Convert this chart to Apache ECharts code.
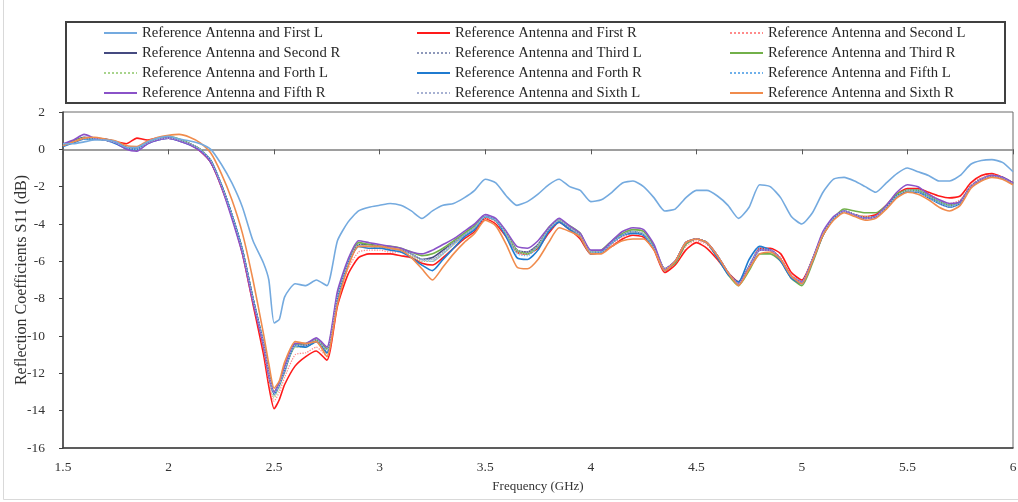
<!DOCTYPE html>
<html>
<head>
<meta charset="utf-8">
<script src="https://cdn.jsdelivr.net/npm/echarts@6/dist/echarts.min.js"></script>
<style>
html,body{margin:0;padding:0;background:#fff;}
#chart{width:1018px;height:502px;}
</style>
</head>
<body>
<div id="chart"></div>
<script>
// Frequency (GHz)
var freq = [1.50,1.55,1.60,1.65,1.70,1.75,1.80,1.85,1.90,1.95,
 2.00,2.05,2.10,2.15,2.20,2.25,2.30,2.35,2.40,2.45,
 2.475,2.50,2.525,2.55,
 2.60,2.65,2.70,2.75,2.80,2.85,2.90,2.95,
 3.00,3.05,3.10,3.15,3.20,3.25,3.30,3.35,3.40,3.45,3.50,3.55,3.60,3.65,3.70,3.75,3.80,3.85,3.90,3.95,
 4.00,4.05,4.10,4.15,4.20,4.25,4.30,4.35,4.40,4.45,4.50,4.55,4.60,4.65,4.70,4.75,4.80,4.85,4.90,4.95,
 5.00,5.05,5.10,5.15,5.20,5.25,5.30,5.35,5.40,5.45,5.50,5.55,5.60,5.65,5.70,5.75,5.80,5.85,5.90,5.95,
 6.00];

var firstL = [0.3,0.3,0.4,0.5,0.5,0.4,0.1,0.1,0.4,0.6,
 0.7,0.55,0.45,0.3,0.0,-0.8,-1.8,-3.1,-4.9,-6.1,
 -7.0,-9.3,-9.1,-7.9,
 -7.2,-7.3,-7.0,-7.3,-4.9,-3.9,-3.3,-3.1,
 -3.0,-2.9,-3.0,-3.3,-3.7,-3.3,-3.0,-2.9,-2.6,-2.2,-1.6,-1.8,-2.5,-3.0,-2.8,-2.4,-1.9,-1.6,-2.0,-2.2,
 -2.8,-2.7,-2.3,-1.8,-1.7,-2.0,-2.6,-3.3,-3.2,-2.6,-2.2,-2.2,-2.5,-3.0,-3.7,-3.1,-1.9,-2.0,-2.6,-3.6,
 -4.0,-3.4,-2.3,-1.6,-1.5,-1.7,-2.0,-2.3,-1.8,-1.3,-1.0,-1.2,-1.4,-1.7,-1.7,-1.4,-0.8,-0.6,-0.55,-0.7,
 -1.2];

var firstR = [0.2,0.4,0.6,0.6,0.5,0.4,0.3,0.6,0.5,0.6,
 0.6,0.5,0.3,-0.1,-0.7,-2.0,-3.6,-5.6,-8.3,-11.0,
 -12.7,-13.9,-13.4,-12.6,
 -11.6,-11.1,-10.8,-11.3,-8.4,-6.7,-5.8,-5.6,
 -5.6,-5.6,-5.7,-5.8,-6.1,-6.2,-5.8,-5.3,-4.8,-4.4,-3.7,-4.0,-4.7,-5.5,-5.6,-5.3,-4.5,-3.9,-4.3,-4.8,
 -5.6,-5.5,-5.2,-4.8,-4.6,-4.7,-5.4,-6.6,-6.2,-5.4,-5.0,-5.3,-5.9,-6.6,-7.1,-6.3,-5.3,-5.3,-5.6,-6.6,
 -7.0,-5.9,-4.6,-3.7,-3.3,-3.5,-3.6,-3.5,-3.0,-2.4,-2.1,-2.1,-2.3,-2.5,-2.6,-2.5,-1.8,-1.4,-1.3,-1.5,
 -1.8];

var secondL = [0.2,0.4,0.6,0.6,0.55,0.4,0.15,0.1,0.4,0.55,
 0.6,0.5,0.3,0.0,-0.6,-2.0,-3.6,-5.5,-8.1,-10.7,
 -12.4,-13.5,-13.0,-12.2,
 -11.0,-10.9,-10.6,-11.1,-8.1,-6.4,-5.5,-5.4,
 -5.4,-5.5,-5.5,-5.7,-6.0,-6.0,-5.6,-5.1,-4.7,-4.3,-3.7,-3.9,-4.6,-5.5,-5.6,-5.2,-4.4,-3.9,-4.3,-4.7,
 -5.6,-5.5,-5.1,-4.7,-4.5,-4.6,-5.3,-6.5,-6.1,-5.2,-4.9,-5.1,-5.8,-6.6,-7.2,-6.3,-5.4,-5.4,-5.8,-6.7,
 -7.1,-5.9,-4.5,-3.7,-3.3,-3.5,-3.6,-3.6,-3.1,-2.5,-2.2,-2.2,-2.4,-2.7,-2.9,-2.7,-1.9,-1.5,-1.35,-1.5,
 -1.8];

var secondR = [0.2,0.45,0.65,0.6,0.55,0.4,0.1,0.0,0.4,0.6,
 0.65,0.5,0.3,0.0,-0.7,-1.9,-3.5,-5.4,-8.0,-10.5,
 -12.0,-13.1,-12.6,-11.9,
 -10.4,-10.5,-10.2,-10.9,-8.0,-6.2,-5.1,-5.1,
 -5.2,-5.3,-5.4,-5.6,-5.9,-5.8,-5.4,-5.0,-4.6,-4.2,-3.6,-3.8,-4.5,-5.4,-5.5,-5.1,-4.3,-3.8,-4.2,-4.6,
 -5.5,-5.5,-5.0,-4.6,-4.4,-4.6,-5.3,-6.4,-6.0,-5.0,-4.8,-5.0,-5.7,-6.6,-7.2,-6.3,-5.4,-5.4,-5.9,-6.8,
 -7.1,-5.9,-4.5,-3.7,-3.3,-3.5,-3.7,-3.6,-3.1,-2.5,-2.2,-2.2,-2.5,-2.8,-3.0,-2.8,-2.0,-1.6,-1.4,-1.5,
 -1.8];

var thirdL = [0.2,0.45,0.6,0.6,0.5,0.35,0.1,0.0,0.35,0.55,
 0.6,0.5,0.3,0.0,-0.6,-1.9,-3.5,-5.4,-8.0,-10.4,
 -12.1,-13.2,-12.7,-11.9,
 -10.6,-10.6,-10.3,-10.9,-8.0,-6.2,-5.2,-5.2,
 -5.3,-5.3,-5.4,-5.6,-5.9,-5.9,-5.5,-5.0,-4.6,-4.2,-3.6,-3.8,-4.6,-5.5,-5.6,-5.2,-4.3,-3.8,-4.2,-4.6,
 -5.5,-5.5,-5.0,-4.6,-4.4,-4.5,-5.3,-6.4,-6.0,-5.0,-4.8,-5.0,-5.7,-6.6,-7.2,-6.3,-5.4,-5.4,-5.9,-6.8,
 -7.1,-5.9,-4.5,-3.7,-3.3,-3.5,-3.7,-3.6,-3.1,-2.5,-2.2,-2.2,-2.5,-2.8,-3.0,-2.8,-2.0,-1.6,-1.4,-1.5,
 -1.8];

var thirdR = [0.25,0.45,0.6,0.55,0.5,0.35,0.05,-0.05,0.35,0.6,
 0.7,0.55,0.3,0.0,-0.6,-1.9,-3.5,-5.4,-8.0,-10.4,
 -12.0,-13.0,-12.5,-11.7,
 -10.5,-10.4,-10.2,-10.7,-7.8,-6.0,-5.0,-5.1,
 -5.2,-5.2,-5.3,-5.5,-5.7,-5.6,-5.3,-4.9,-4.5,-4.1,-3.6,-3.8,-4.5,-5.4,-5.6,-5.2,-4.2,-3.8,-4.1,-4.5,
 -5.5,-5.4,-4.9,-4.5,-4.3,-4.4,-5.2,-6.4,-6.1,-5.1,-4.8,-5.0,-5.8,-6.7,-7.3,-6.5,-5.6,-5.6,-6.0,-6.9,
 -7.3,-6.1,-4.6,-3.7,-3.2,-3.3,-3.4,-3.4,-3.0,-2.4,-2.2,-2.2,-2.5,-2.8,-3.0,-2.8,-2.0,-1.6,-1.45,-1.55,
 -1.85];

var forthL = [0.2,0.4,0.6,0.6,0.5,0.35,0.05,0.0,0.35,0.55,
 0.6,0.5,0.3,0.0,-0.6,-1.9,-3.5,-5.5,-8.1,-10.5,
 -12.2,-13.3,-12.8,-11.9,
 -10.6,-10.6,-10.3,-10.9,-8.0,-6.2,-5.2,-5.2,
 -5.3,-5.3,-5.4,-5.7,-6.0,-6.0,-5.6,-5.1,-4.6,-4.2,-3.6,-3.8,-4.6,-5.5,-5.6,-5.2,-4.3,-3.8,-4.2,-4.6,
 -5.5,-5.5,-5.0,-4.6,-4.4,-4.5,-5.3,-6.5,-6.0,-5.0,-4.8,-5.0,-5.7,-6.6,-7.2,-6.3,-5.4,-5.4,-5.9,-6.8,
 -7.2,-6.0,-4.5,-3.7,-3.3,-3.5,-3.6,-3.6,-3.1,-2.5,-2.2,-2.2,-2.5,-2.8,-3.0,-2.8,-2.0,-1.6,-1.4,-1.5,
 -1.8];

var forthR = [0.15,0.35,0.55,0.55,0.5,0.3,0.05,0.0,0.3,0.5,
 0.6,0.45,0.25,-0.05,-0.6,-1.9,-3.5,-5.4,-8.0,-10.4,
 -12.1,-13.1,-12.6,-11.8,
 -10.5,-10.6,-10.3,-10.9,-8.0,-6.1,-5.2,-5.3,
 -5.3,-5.4,-5.5,-5.8,-6.2,-6.5,-5.9,-5.3,-4.7,-4.3,-3.6,-3.8,-4.7,-5.8,-5.9,-5.4,-4.4,-3.9,-4.3,-4.7,
 -5.6,-5.5,-5.0,-4.6,-4.5,-4.6,-5.3,-6.5,-6.0,-5.0,-4.8,-5.0,-5.8,-6.7,-7.1,-5.9,-5.2,-5.4,-6.0,-6.9,
 -7.2,-6.0,-4.6,-3.7,-3.3,-3.5,-3.7,-3.6,-3.1,-2.5,-2.3,-2.3,-2.6,-2.9,-3.1,-2.9,-2.0,-1.6,-1.45,-1.55,
 -1.85];

var fifthL = [0.2,0.4,0.55,0.55,0.5,0.35,0.05,0.0,0.3,0.55,
 0.6,0.5,0.3,0.0,-0.6,-1.9,-3.5,-5.4,-8.0,-10.4,
 -12.1,-13.1,-12.6,-11.8,
 -10.5,-10.5,-10.2,-10.8,-7.9,-6.1,-5.1,-5.2,
 -5.2,-5.3,-5.4,-5.6,-5.9,-6.0,-5.6,-5.1,-4.6,-4.2,-3.6,-3.8,-4.6,-5.6,-5.7,-5.2,-4.3,-3.8,-4.2,-4.6,
 -5.5,-5.5,-5.0,-4.6,-4.4,-4.6,-5.3,-6.4,-6.0,-5.0,-4.8,-5.0,-5.7,-6.6,-7.2,-6.2,-5.3,-5.4,-5.9,-6.8,
 -7.1,-5.9,-4.5,-3.7,-3.3,-3.5,-3.7,-3.6,-3.1,-2.5,-2.2,-2.2,-2.5,-2.8,-3.0,-2.8,-2.0,-1.6,-1.4,-1.5,
 -1.8];

var fifthR = [0.3,0.5,0.8,0.6,0.5,0.35,0.0,-0.1,0.3,0.5,
 0.6,0.45,0.25,-0.1,-0.7,-2.0,-3.7,-5.6,-8.2,-10.5,
 -12.1,-13.0,-12.5,-11.6,
 -10.4,-10.4,-10.1,-10.6,-7.6,-5.9,-4.9,-5.0,
 -5.1,-5.2,-5.3,-5.5,-5.6,-5.4,-5.1,-4.8,-4.4,-4.0,-3.5,-3.7,-4.4,-5.2,-5.3,-4.9,-4.2,-3.7,-4.1,-4.5,
 -5.4,-5.4,-4.9,-4.4,-4.2,-4.3,-5.1,-6.4,-6.0,-5.0,-4.8,-5.0,-5.7,-6.6,-7.2,-6.3,-5.4,-5.4,-5.9,-6.8,
 -7.1,-5.9,-4.4,-3.6,-3.3,-3.5,-3.7,-3.6,-3.0,-2.3,-1.9,-2.0,-2.4,-2.7,-2.9,-2.8,-2.0,-1.6,-1.4,-1.5,
 -1.8];

var sixthL = [0.2,0.4,0.6,0.6,0.5,0.35,0.1,0.0,0.35,0.55,
 0.6,0.5,0.3,0.0,-0.6,-1.9,-3.5,-5.4,-8.0,-10.4,
 -12.0,-13.1,-12.6,-11.8,
 -10.5,-10.5,-10.2,-10.8,-7.9,-6.1,-5.1,-5.2,
 -5.2,-5.3,-5.4,-5.6,-5.9,-5.9,-5.5,-5.0,-4.6,-4.2,-3.6,-3.8,-4.5,-5.4,-5.5,-5.1,-4.3,-3.8,-4.2,-4.6,
 -5.5,-5.5,-5.0,-4.6,-4.4,-4.5,-5.3,-6.4,-6.0,-5.0,-4.8,-5.0,-5.7,-6.6,-7.2,-6.3,-5.4,-5.4,-5.9,-6.8,
 -7.1,-5.9,-4.5,-3.7,-3.3,-3.5,-3.7,-3.6,-3.1,-2.5,-2.2,-2.3,-2.6,-2.9,-3.1,-2.9,-2.0,-1.6,-1.45,-1.55,
 -1.85];

var sixthR = [0.2,0.4,0.6,0.65,0.55,0.45,0.2,0.15,0.45,0.65,
 0.75,0.8,0.65,0.35,-0.2,-1.3,-2.7,-4.5,-7.0,-9.9,
 -11.5,-12.8,-12.4,-11.4,
 -10.3,-10.4,-10.3,-11.1,-8.3,-6.3,-5.2,-5.2,
 -5.2,-5.3,-5.4,-5.8,-6.4,-7.0,-6.3,-5.6,-5.0,-4.5,-3.8,-4.1,-5.1,-6.3,-6.4,-5.9,-5.0,-4.2,-4.4,-4.7,
 -5.6,-5.6,-5.2,-4.9,-4.8,-4.8,-5.4,-6.5,-6.0,-5.0,-4.8,-5.0,-5.7,-6.6,-7.3,-6.4,-5.6,-5.5,-5.9,-6.8,
 -7.2,-6.0,-4.6,-3.8,-3.4,-3.6,-3.8,-3.7,-3.2,-2.6,-2.3,-2.4,-2.7,-3.1,-3.3,-3.0,-2.1,-1.7,-1.5,-1.6,
 -1.9];

var seriesNames = ['Reference Antenna and First L','Reference Antenna and First R','Reference Antenna and Second L',
 'Reference Antenna and Second R','Reference Antenna and Third L','Reference Antenna and Third R',
 'Reference Antenna and Forth L','Reference Antenna and Forth R','Reference Antenna and Fifth L',
 'Reference Antenna and Fifth R','Reference Antenna and Sixth L','Reference Antenna and Sixth R'];
var seriesValues = [firstL, firstR, secondL, secondR, thirdL, thirdR, forthL, forthR, fifthL, fifthR, sixthL, sixthR];
var seriesColors = ['#74AADF','#FF1A1A','#FF8A8A','#454A80','#8E98BA','#72B04A','#A8D48C','#1F7BD0','#6FB0EA','#8A52C8','#A7B1D2','#F08B4C'];
var seriesDotted = [false,false,true,false,true,false,true,false,true,false,true,false];

var FONT = '"Liberation Serif","Times New Roman",serif';
var chart = echarts.init(document.getElementById('chart'), null, {renderer:'canvas'});

var series = seriesNames.map(function(name, k){
  return {
    name: name,
    type: 'line',
    xAxisIndex: 0,
    symbol: 'none',
    showSymbol: false,
    smooth: 0.2,
    z: k === 0 ? 3 : 2,
    lineStyle: {color: seriesColors[k], width: seriesDotted[k] ? 1.3 : 1.6, type: seriesDotted[k] ? 'dotted' : 'solid'},
    itemStyle: {color: seriesColors[k]},
    data: freq.map(function(f, i){ return [f, seriesValues[k][i]]; })
  };
});

chart.setOption({
  animation: false,
  backgroundColor: '#ffffff',
  grid: {left: 63, right: 5, top: 112, bottom: 54, containLabel: false, outerBoundsMode: 'none',
         show: true, borderColor: '#6b6b6b', borderWidth: 1},
  legend: {
    data: seriesNames,
    left: 103, top: 23, width: 950, padding: 0,
    orient: 'horizontal',
    itemGap: 0, itemWidth: 33, itemHeight: 14,
    selectedMode: false,
    itemStyle: {opacity: 0},
    textStyle: {fontFamily: FONT, fontSize: 14.7, color: '#262626', width: 274, lineHeight: 20, height: 20}
  },
  xAxis: [{
    type: 'value', min: 1.5, max: 6, interval: 0.5, position: 'bottom',
    axisLine: {onZero: false, lineStyle: {color: '#404040', width: 1.5}},
    axisTick: {show: false},
    splitLine: {show: false},
    axisLabel: {fontFamily: FONT, fontSize: 13.5, color: '#333', margin: 12},
    name: 'Frequency (GHz)', nameLocation: 'middle', nameGap: 32, nameMoveOverlap: false,
    nameTextStyle: {fontFamily: FONT, fontSize: 13, color: '#333'}
  }, {
    type: 'value', min: 1.5, max: 6, interval: 0.5, position: 'top',
    axisLine: {onZero: true, lineStyle: {color: '#7f7f7f', width: 1.5}},
    axisTick: {show: true, inside: true, length: 5, lineStyle: {color: '#595959', width: 1}},
    axisLabel: {show: false},
    splitLine: {show: false}
  }],
  yAxis: {
    type: 'value', min: -16, max: 2, interval: 2,
    axisLine: {show: true, onZero: false, lineStyle: {color: '#404040', width: 1.5}},
    axisTick: {show: true, length: 4, lineStyle: {color: '#404040'}},
    splitLine: {show: false},
    axisLabel: {fontFamily: FONT, fontSize: 13.5, color: '#333', margin: 18},
    name: 'Reflection Coefficients S11 (dB)', nameLocation: 'middle', nameGap: 33, nameMoveOverlap: false,
    nameTextStyle: {fontFamily: FONT, fontSize: 16, color: '#333'}
  },
  graphic: [{
    type: 'rect', silent: true, z: -1,
    shape: {x: 66, y: 22, width: 939, height: 81},
    style: {fill: 'none', stroke: '#404040', lineWidth: 2}
  }, {
    type: 'polyline', silent: true, z: -1,
    shape: {points: [[3.5, 0], [3.5, 499.5], [1018, 499.5]]},
    style: {fill: 'none', stroke: '#d9d9d9', lineWidth: 1}
  }],
  series: series
});
</script>
</body>
</html>
